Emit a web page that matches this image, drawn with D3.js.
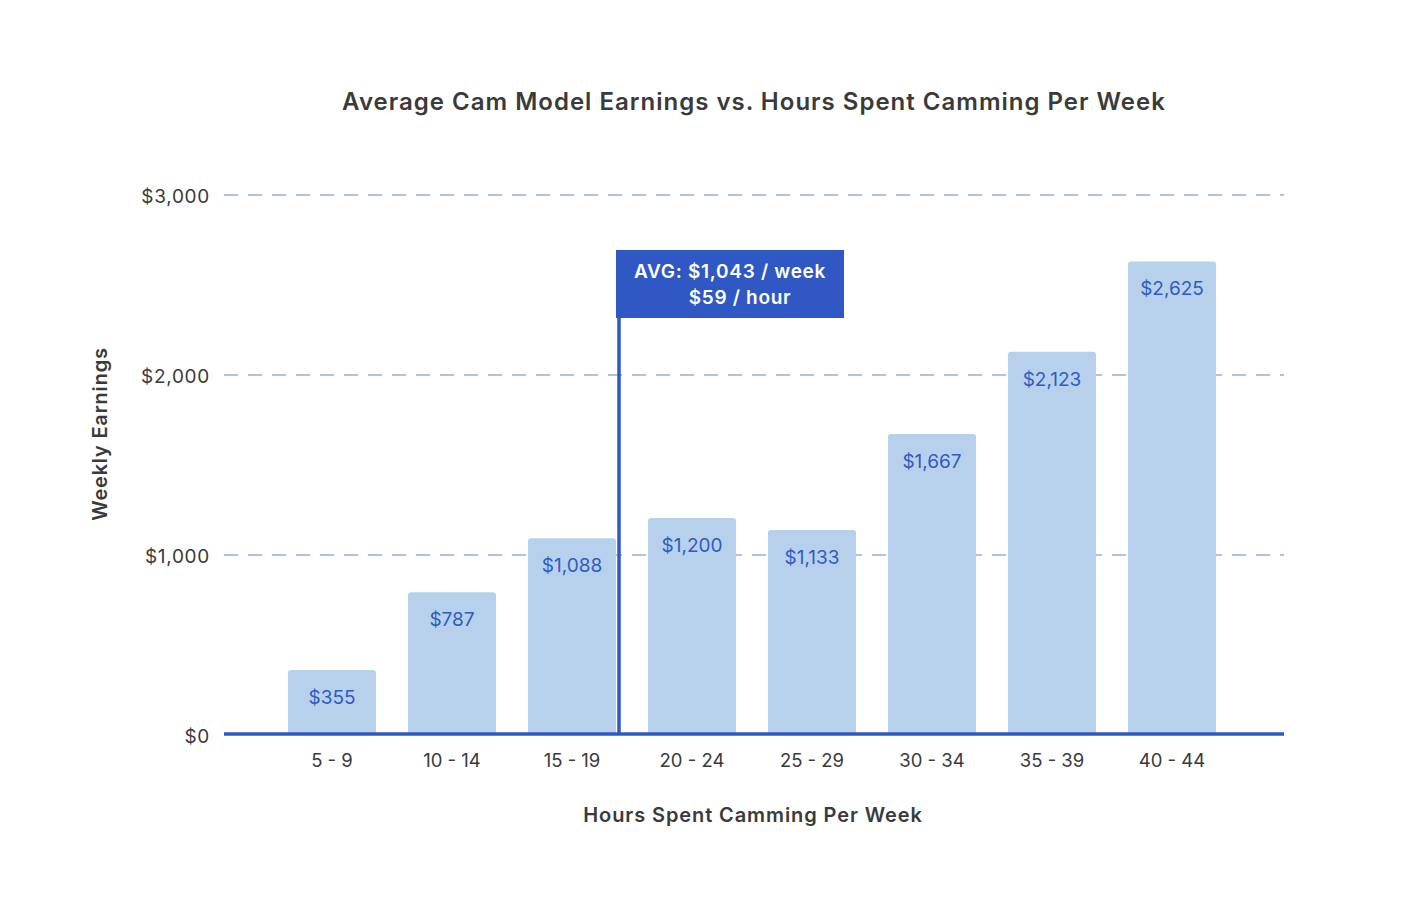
<!DOCTYPE html>
<html><head><meta charset="utf-8">
<script src="https://cdn.jsdelivr.net/npm/d3@7"></script>
<style>body{margin:0;background:#fff}svg{display:block}text{font-family:Inter,"DejaVu Sans",sans-serif}</style>
</head><body>
<script>
const categories = ["5 - 9","10 - 14","15 - 19","20 - 24","25 - 29","30 - 34","35 - 39","40 - 44"];
const earnings = [355,787,1088,1200,1133,1667,2123,2625];
const yTicks = [0,1000,2000,3000];
const avgLines = ["AVG: $1,043 / week","$59 / hour"];
const avgAfterCategory = "15 - 19";

const W=1410,H=910;
const svg=d3.select("body").append("svg").attr("width",W).attr("height",H);
const x=d3.scaleBand().domain(categories).range([272,1232]).paddingInner(32/120).paddingOuter(16/120);
const y=d3.scaleLinear().domain([0,3000]).range([734,194]);
const fmt=d3.format("$,");

// gridlines
svg.append("g").selectAll("line").data(yTicks.filter(d=>d>0)).join("line")
 .attr("x1",224).attr("x2",1284).attr("y1",d=>y(d)+1).attr("y2",d=>y(d)+1)
 .attr("stroke","#9aabdf").attr("stroke-width",1.6).attr("stroke-dasharray","14,10");

// y tick labels
svg.append("g").selectAll("text").data(yTicks).join("text")
 .attr("x",210).attr("y",d=>y(d)+2).attr("dy","0.35em").attr("text-anchor","end")
 .attr("font-size",19).attr("letter-spacing",0.7).attr("fill","#3a3a3a").text(d=>fmt(d));

// bars
svg.append("g").selectAll("rect").data(earnings).join("rect")
 .attr("x",(d,i)=>x(categories[i])).attr("width",x.bandwidth())
 .attr("y",d=>y(d)).attr("height",d=>y(0)-y(d)).attr("rx",3)
 .attr("fill","#b7d1ec");

// value labels
svg.append("g").selectAll("text").data(earnings).join("text")
 .attr("x",(d,i)=>x(categories[i])+x.bandwidth()/2).attr("y",d=>y(d)+27)
 .attr("dy","0.35em").attr("text-anchor","middle").attr("font-size",19)
 .attr("fill","#2f5bc4").text(d=>fmt(d));

// x axis
svg.append("line").attr("x1",224).attr("x2",1284).attr("y1",y(0)).attr("y2",y(0))
 .attr("stroke","#2f58c4").attr("stroke-width",3.5);
svg.append("g").selectAll("text").data(categories).join("text")
 .attr("x",d=>x(d)+x.bandwidth()/2).attr("y",761).attr("dy","0.35em")
 .attr("text-anchor","middle").attr("font-size",18.5).attr("fill","#3a3a3a").text(d=>d);

// average marker
const ax=x(avgAfterCategory)+x.bandwidth()+3;
svg.append("line").attr("x1",ax).attr("x2",ax).attr("y1",250).attr("y2",y(0))
 .attr("stroke","#2f58c4").attr("stroke-width",3.5);
svg.append("rect").attr("x",ax-3).attr("y",250).attr("width",228).attr("height",68).attr("fill","#2f58c4");
svg.append("g").selectAll("text").data(avgLines).join("text")
 .attr("x",(d,i)=>ax-3+114+i*10).attr("y",(d,i)=>271+i*26).attr("dy","0.35em").attr("text-anchor","middle")
 .attr("font-size",19).attr("letter-spacing",0.7).attr("font-weight",600).attr("fill","#fff").text(d=>d);

// titles
svg.append("text").attr("x",754).attr("y",102).attr("dy","0.35em").attr("text-anchor","middle")
 .attr("font-size",24).attr("letter-spacing",1).attr("font-weight",600).attr("fill","#3a3a3a")
 .text("Average Cam Model Earnings vs. Hours Spent Camming Per Week");
svg.append("text").attr("x",753).attr("y",815).attr("dy","0.35em").attr("text-anchor","middle")
 .attr("font-size",20).attr("letter-spacing",0.9).attr("font-weight",600).attr("fill","#3a3a3a").text("Hours Spent Camming Per Week");
svg.append("text").attr("transform","translate(100,434) rotate(-90)").attr("dy","0.35em").attr("text-anchor","middle")
 .attr("font-size",20).attr("letter-spacing",0.8).attr("font-weight",600).attr("fill","#3a3a3a").text("Weekly Earnings");
</script>
</body></html>
